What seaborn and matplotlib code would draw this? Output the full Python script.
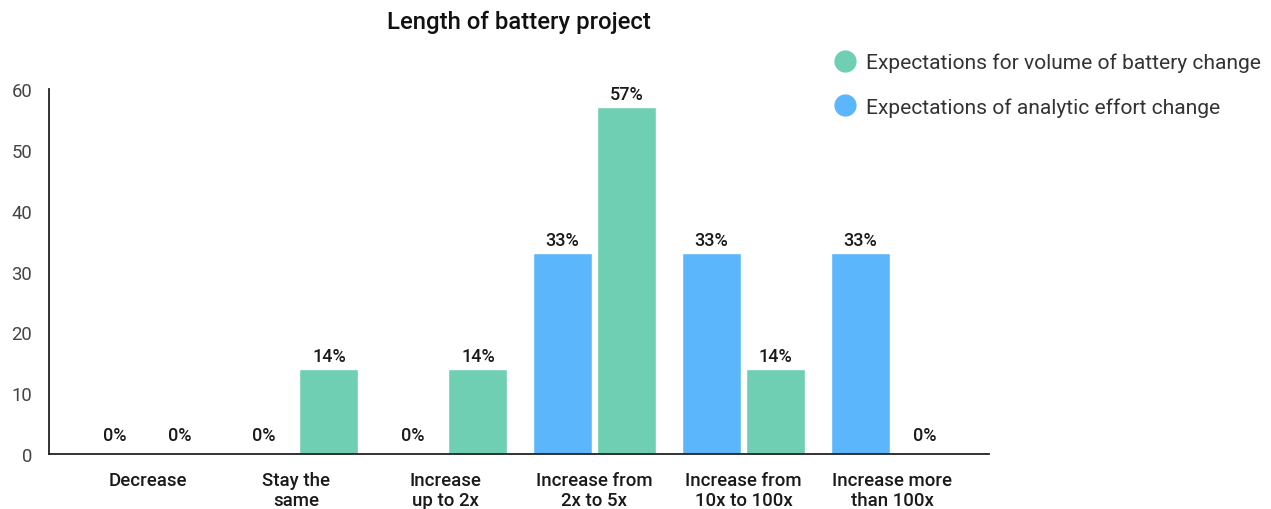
import matplotlib
matplotlib.use("Agg")
import matplotlib.pyplot as plt
from matplotlib.lines import Line2D
import seaborn as sns
import pandas as pd

# Survey categories and the two expectation series (percent of respondents)
categories = ["Decrease", "Stay the\nsame", "Increase\nup to 2x",
              "Increase from\n2x to 5x", "Increase from\n10x to 100x",
              "Increase more\nthan 100x"]
analytic_effort = [0, 0, 0, 33, 33, 33]
battery_volume = [0, 14, 14, 57, 14, 0]

series_names = ["Expectations of analytic effort change",
                "Expectations for volume of battery change"]
series_colors = ["#5CB6FC", "#6FCFB2"]
y_ticks = [0, 10, 20, 30, 40, 50, 60]

df = pd.DataFrame({
    "category": categories * 2,
    "value": analytic_effort + battery_volume,
    "series": [series_names[0]] * len(categories) + [series_names[1]] * len(categories),
})

sns.set_theme(style="white")
plt.rcParams["font.family"] = ["Roboto", "DejaVu Sans"]

fig = plt.figure(figsize=(12.71, 5.10), dpi=100)
ax = fig.add_axes([49 / 1271, 1 - 455 / 510, (989 - 49) / 1271, (455 - 90) / 510])

sns.barplot(data=df, x="category", y="value", hue="series",
            hue_order=series_names, palette=series_colors,
            width=0.87, gap=0.09, saturation=1, ax=ax, legend=False)

ax.set_xlim(-0.661, 5.648)
ax.set_ylim(0, 60)
ax.set_yticks(y_ticks)
ax.set_xlabel("")
ax.set_ylabel("")

# Value labels: zero-height bars get a larger offset
for cont in ax.containers:
    vals = [b.get_height() for b in cont]
    ax.bar_label(cont, labels=[f"{v:.0f}%" if v > 0 else "" for v in vals],
                 padding=3, fontsize=13, fontweight="medium", color="#1a1a1a")
    ax.bar_label(cont, labels=["0%" if v == 0 else "" for v in vals],
                 padding=7.5, fontsize=13, fontweight="medium", color="#1a1a1a")

for side in ["top", "right"]:
    ax.spines[side].set_visible(False)
for side in ["left", "bottom"]:
    ax.spines[side].set_color("#222222")
    ax.spines[side].set_linewidth(1.3)

ax.tick_params(axis="y", direction="in", length=6, width=1.2, color="#222222",
               pad=12, labelsize=13.3, labelcolor="#444444")
ax.tick_params(axis="x", which="major", length=0, pad=12, labelsize=13.4,
               labelcolor="#1a1a1a")
for lbl in ax.get_xticklabels():
    lbl.set_fontweight("medium")
    lbl.set_linespacing(1.15)

# Group separators along the baseline
ax.set_xticks([0.5, 1.5, 2.5, 3.5, 4.5, 5.648], minor=True)
ax.tick_params(axis="x", which="minor", direction="in", length=6, width=1.2,
               color="#222222")

fig.text(519 / 1271, 1 - 22 / 510, "Length of battery project", ha="center",
         va="center", fontsize=17.2, fontweight="medium", color="#111111")

handles = [Line2D([], [], linestyle="none", marker="o", markersize=16,
                  markerfacecolor=series_colors[1], markeredgewidth=0),
           Line2D([], [], linestyle="none", marker="o", markersize=16,
                  markerfacecolor=series_colors[0], markeredgewidth=0)]
leg = fig.legend(handles, [series_names[1], series_names[0]], loc="upper left",
                 bbox_to_anchor=(822 / 1271, 1 - 43 / 510), frameon=False,
                 fontsize=15.1, labelcolor="#333333", handletextpad=0.45,
                 labelspacing=1.2, borderpad=0, handlelength=1.15)

fig.savefig("out.png", dpi=100)
